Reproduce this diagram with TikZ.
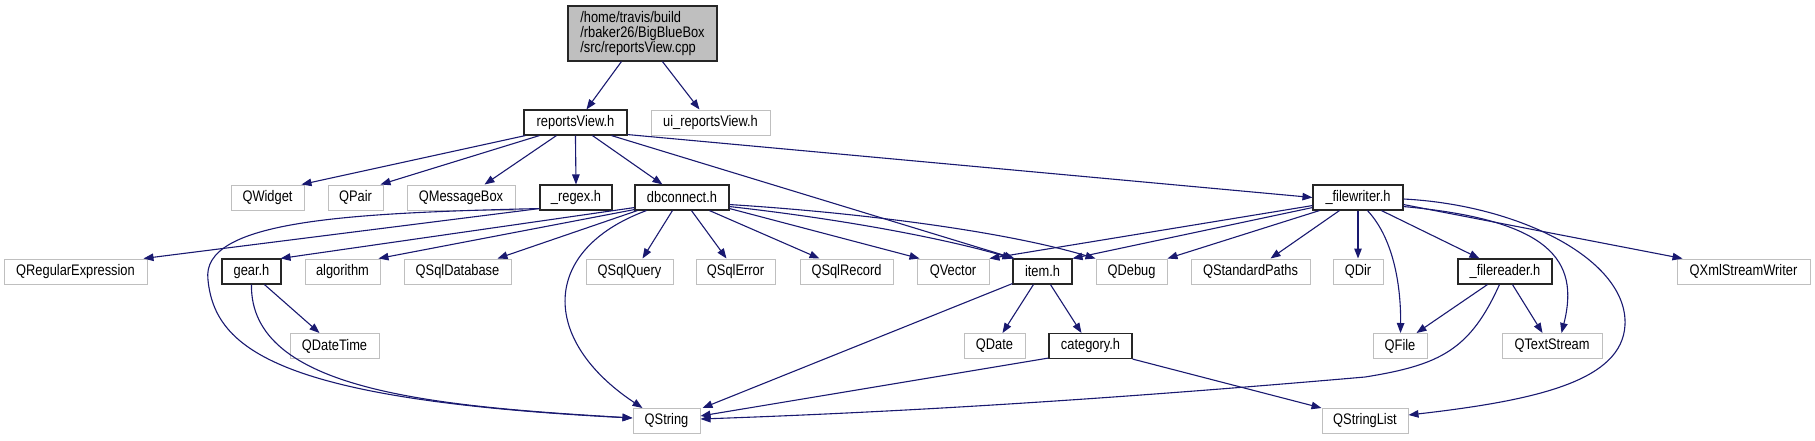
\documentclass[tikz,border=0pt]{standalone}
\usepackage{fontspec}
\setmainfont{Liberation Sans}[FakeStretch=0.84]
\usetikzlibrary{arrows.meta}
\definecolor{edgec}{HTML}{191970}
\definecolor{greyb}{HTML}{BFBFBF}
\tikzset{
 basebox/.style={rectangle, inner sep=0pt, minimum height=25pt, font=\fontsize{15.3}{15}\selectfont, anchor=center},
 ext/.style={basebox, draw=greyb, line width=1pt},
 int/.style={basebox, draw=black!85, line width=1.1pt},
 rootn/.style={basebox, draw=black!85, fill=greyb, line width=1.1pt, align=left},
 dep/.style={draw=edgec, line width=1.1pt, -{Triangle[length=10pt,width=7.5pt]}},
}
\begin{document}
\begin{tikzpicture}[x=1pt,y=-1pt]
\useasboundingbox (0,0) rectangle (1815,440);
% nodes
\node[rootn, minimum width=149pt, minimum height=55pt] (root) at (642.5,33.5) {/home/travis/build\\/rbaker26/BigBlueBox\\/src/reportsView.cpp};
\node[int, minimum width=103pt] (rv) at (575.5,122.5) {reportsView.h};
\node[ext, minimum width=119pt] (ui) at (710.5,122.5) {ui\_reportsView.h};
\node[ext, minimum width=73pt] (qwidget) at (267.5,197.5) {QWidget};
\node[ext, minimum width=55pt] (qpair) at (355.5,197.5) {QPair};
\node[ext, minimum width=108pt] (qmsg) at (461,197.5) {QMessageBox};
\node[int, minimum width=72pt] (regex) at (576,197.5) {\_regex.h};
\node[int, minimum width=94pt] (db) at (682,197.5) {dbconnect.h};
\node[int, minimum width=90pt] (fw) at (1358,197.5) {\_filewriter.h};
\node[ext, minimum width=143pt] (qre) at (75.5,271.5) {QRegularExpression};
\node[int, minimum width=59pt] (gear) at (251.5,271.5) {gear.h};
\node[ext, minimum width=75pt] (algo) at (342.5,271.5) {algorithm};
\node[ext, minimum width=107pt] (qsqldb) at (457.5,271.5) {QSqlDatabase};
\node[ext, minimum width=87pt] (qsqlq) at (629.5,271.5) {QSqlQuery};
\node[ext, minimum width=79pt] (qsqle) at (735.5,271.5) {QSqlError};
\node[ext, minimum width=93pt] (qsqlr) at (846.5,271.5) {QSqlRecord};
\node[ext, minimum width=72pt] (qvec) at (953,271.5) {QVector};
\node[int, minimum width=59pt] (item) at (1042.5,271.5) {item.h};
\node[ext, minimum width=71pt] (qdebug) at (1131.5,271.5) {QDebug};
\node[ext, minimum width=119pt] (qsp) at (1250.5,271.5) {QStandardPaths};
\node[ext, minimum width=50pt] (qdir) at (1358,271.5) {QDir};
\node[int, minimum width=94pt] (fr) at (1505,271.5) {\_filereader.h};
\node[ext, minimum width=133pt] (qxml) at (1743.5,271.5) {QXmlStreamWriter};
\node[ext, minimum width=89pt] (qdt) at (334.5,346) {QDateTime};
\node[ext, minimum width=61pt] (qdate) at (994.5,346) {QDate};
\node[int, minimum width=83pt] (cat) at (1090.5,346) {category.h};
\node[ext, minimum width=54pt] (qfile) at (1400,346) {QFile};
\node[ext, minimum width=100pt] (qts) at (1552,346) {QTextStream};
\node[ext, minimum width=67pt] (qstring) at (666.5,421) {QString};
\node[ext, minimum width=86pt] (qsl) at (1365,421) {QStringList};
% root
\draw[dep] ([xshift=54pt]root.south west) -- ([xshift=63pt]rv.north west);
\draw[dep] ([xshift=95pt]root.south west) -- ([xshift=49pt]ui.north west);
% reportsView.h
\draw[dep] ([xshift=2pt]rv.south west) -- ([xshift=-3pt]qwidget.north east);
\draw[dep] ([xshift=16pt]rv.south west) -- ([xshift=-3pt]qpair.north east);
\draw[dep] ([xshift=33pt]rv.south west) -- ([xshift=78pt]qmsg.north west);
\draw[dep] ([xshift=52pt]rv.south west) -- (regex.north);
\draw[dep] ([xshift=69pt]rv.south west) -- ([xshift=28pt]db.north west);
\draw[dep] ([xshift=88pt]rv.south west) -- ([xshift=2pt]item.north west);
\draw[dep] ([yshift=1pt]rv.south east) -- (fw.west);
% _regex.h
\draw[dep] ([yshift=2pt]regex.south west) -- ([xshift=-4pt]qre.north east);
\draw[dep] ([yshift=2pt]regex.south west) .. controls (350,213) and (200,220) .. (208,280) .. controls (215,350) and (280,400) .. ([yshift=3pt]qstring.west);
% gear.h
\draw[dep] ([xshift=43pt]gear.south west) -- ([xshift=30pt]qdt.north west);
\draw[dep] ([xshift=30pt]gear.south west) .. controls (250,390) and (430,406) .. ([yshift=3pt]qstring.west);
% dbconnect.h
\draw[dep] ([yshift=3pt]db.south west) -- ([xshift=-1pt]gear.north east);
\draw[dep] ([yshift=1pt]db.south west) -- ([xshift=-2pt]algo.north east);
\draw[dep] ([xshift=3pt]db.south west) -- ([xshift=94pt]qsqldb.north west);
\draw[dep] ([xshift=12pt]db.south west) .. controls (540,250) and (540,340) .. ([xshift=10pt]qstring.north west);
\draw[dep] ([xshift=38pt]db.south west) -- ([xshift=57pt]qsqlq.north west);
\draw[dep] ([xshift=57pt]db.south west) -- ([xshift=31pt]qsqle.north west);
\draw[dep] ([xshift=75pt]db.south west) -- ([xshift=20pt]qsqlr.north west);
\draw[dep] ([yshift=2pt]db.south east) -- ([xshift=3pt]qvec.north west);
\draw[dep] ([yshift=4pt]db.south east) .. controls (850,220) and (950,240) .. (item.north west);
\draw[dep] ([yshift=6pt]db.south east) .. controls (850,212) and (1000,230) .. (qdebug.north west);
% item.h
\draw[dep] ([yshift=1pt]item.south west) -- ([xshift=2pt]qstring.north east);
\draw[dep] ([xshift=21pt]item.south west) -- ([xshift=39pt]qdate.north west);
\draw[dep] ([xshift=38pt]item.south west) -- ([xshift=33pt]cat.north west);
% category.h
\draw[dep] ([yshift=1pt]cat.south west) -- ([yshift=5pt]qstring.east);
\draw[dep] (cat.south east) -- (qsl.north west);
% _filewriter.h
\draw[dep] ([yshift=5pt]fw.south west) -- (qvec.north east);
\draw[dep] ([yshift=3pt]fw.south west) -- (item.north east);
\draw[dep] ([xshift=7pt]fw.south west) -- (qdebug.north east);
\draw[dep] ([xshift=27pt]fw.south west) -- ([xshift=80pt]qsp.north west);
\draw[dep] (fw.south) -- (qdir.north);
\draw[dep] ([xshift=55pt]fw.south west) .. controls (1395,240) and (1401,290) .. ([xshift=28pt]qfile.north west);
\draw[dep] ([xshift=69pt]fw.south west) -- ([xshift=22pt]fr.north west);
\draw[dep] ([yshift=4pt]fw.south east) .. controls (1550,220) and (1580,260) .. ([xshift=60pt]qts.north west);
\draw[dep] ([yshift=-1.5pt]fw.east) .. controls (1520,205) and (1628,260) .. (1625,325) .. controls (1622,380) and (1540,400) .. ([yshift=6pt]qsl.east);
\draw[dep] ([yshift=6pt]fw.south east) -- ([xshift=6pt]qxml.north west);
% _filereader.h
\draw[dep] ([xshift=30pt]fr.south west) -- ([xshift=44pt]qfile.north west);
\draw[dep] ([xshift=55pt]fr.south west) -- ([xshift=41pt]qts.north west);
\draw[dep] ([xshift=42pt]fr.south west) .. controls (1470,350) and (1440,365) .. (1365,377) .. controls (1100,400) and (900,412) .. ([yshift=2pt]qstring.east);
\end{tikzpicture}
\end{document}
